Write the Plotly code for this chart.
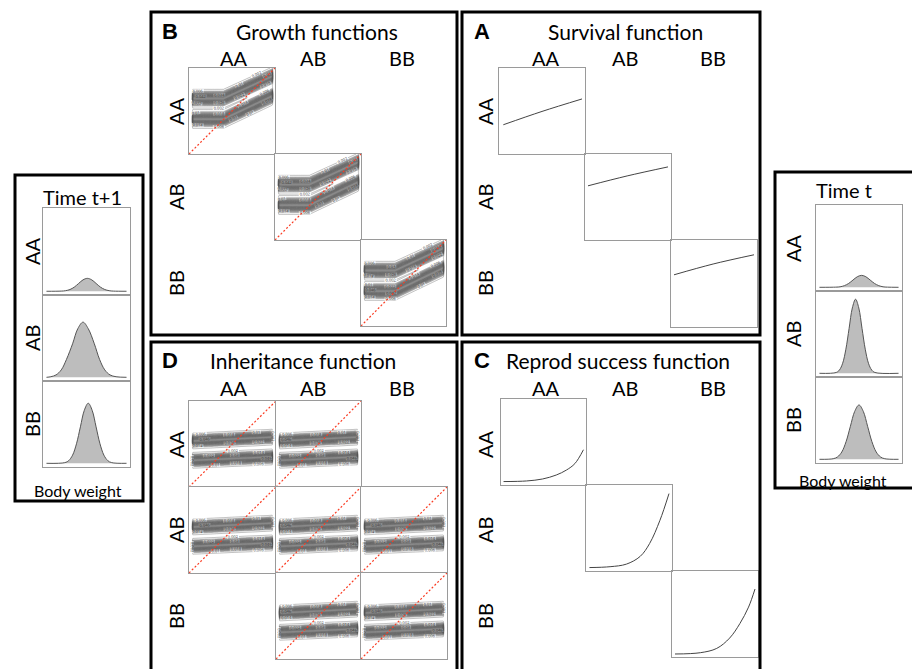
import numpy as np
import plotly.graph_objects as go

W, H = 912, 669
GENOTYPES = ["AA", "AB", "BB"]

# ---------------- data (box-fraction units) ----------------
SURV_X = [[0.05, 0.50, 0.965], [0.035, 0.49, 0.965], [0.035, 0.49, 0.965]]
SURV_Y = [[0.34, 0.495, 0.64], [0.63, 0.745, 0.85], [0.60, 0.724, 0.83]]

REPRO_X = [[0.03, 0.30, 0.49, 0.65, 0.77, 0.87, 0.97],
           [0.04, 0.28, 0.47, 0.63, 0.74, 0.86, 0.965],
           [0.035, 0.33, 0.52, 0.67, 0.79, 0.89, 0.965]]
REPRO_Y = [[0.04, 0.047, 0.07, 0.116, 0.174, 0.25, 0.41],
           [0.04, 0.05, 0.08, 0.17, 0.32, 0.59, 0.90],
           [0.035, 0.05, 0.10, 0.22, 0.39, 0.58, 0.79]]

GROWTH_KNOT_X = [0.04, 0.40, 0.97]
GROWTH_UPPER_Y = [0.645, 0.645, 0.905]
GROWTH_LOWER_Y = [0.405, 0.405, 0.675]
GROWTH_SD = 0.042
GROWTH_CELLS = [(0, 0), (1, 1), (2, 2)]

INHERIT_KNOT_X = [0.04, 0.96]
INHERIT_UPPER_Y = [0.535, 0.58]
INHERIT_LOWER_Y = [0.31, 0.35]
INHERIT_SD = 0.036
INHERIT_CELLS = [(0, 0), (0, 1), (1, 0), (1, 1), (1, 2), (2, 1), (2, 2)]

IDENTITY_X = [0, 1]
IDENTITY_Y = [0, 1]

DIST_T1_X = [
    [0.04, 0.21, 0.26, 0.31, 0.36, 0.41, 0.46, 0.51, 0.56, 0.61, 0.66, 0.71, 0.76, 0.81, 0.96],
    [0.04, 0.09, 0.15, 0.21, 0.27, 0.34, 0.40, 0.46, 0.52, 0.59, 0.65, 0.71, 0.77, 0.84, 0.96],
    [0.04, 0.25, 0.295, 0.34, 0.385, 0.43, 0.475, 0.52, 0.565, 0.61, 0.655, 0.70, 0.745, 0.79, 0.96],
]
DIST_T1_Y = [
    [0, 0.002, 0.007, 0.021, 0.05, 0.094, 0.137, 0.155, 0.137, 0.094, 0.05, 0.021, 0.007, 0.002, 0],
    [0, 0.007, 0.029, 0.09, 0.218, 0.407, 0.591, 0.67, 0.591, 0.407, 0.218, 0.09, 0.029, 0.007, 0],
    [0, 0.008, 0.032, 0.099, 0.237, 0.443, 0.644, 0.73, 0.644, 0.443, 0.237, 0.099, 0.032, 0.008, 0],
]
DIST_T_X = [
    [0.04, 0.23, 0.28, 0.33, 0.38, 0.43, 0.48, 0.53, 0.58, 0.63, 0.68, 0.73, 0.78, 0.83, 0.96],
    [0.04, 0.235, 0.2725, 0.31, 0.3475, 0.385, 0.4225, 0.46, 0.4975, 0.535, 0.5725, 0.61, 0.6475, 0.685, 0.96],
    [0.04, 0.20, 0.25, 0.30, 0.35, 0.40, 0.45, 0.50, 0.55, 0.60, 0.65, 0.70, 0.75, 0.80, 0.96],
]
DIST_T_Y = [
    [0, 0.002, 0.006, 0.02, 0.047, 0.088, 0.128, 0.145, 0.128, 0.088, 0.047, 0.02, 0.006, 0.002, 0],
    [0, 0.01, 0.04, 0.122, 0.293, 0.546, 0.794, 0.90, 0.794, 0.546, 0.293, 0.122, 0.04, 0.01, 0],
    [0, 0.007, 0.029, 0.089, 0.215, 0.401, 0.582, 0.66, 0.582, 0.401, 0.215, 0.089, 0.029, 0.007, 0],
]

# ---------------- layout helpers ----------------
FONT = "Lato, 'Open Sans', sans-serif"
BOX_COLOR = "#9a9a9a"
RED = "rgb(250,60,35)"
fig = go.Figure()
_count = [0]
common = dict(showticklabels=False, showgrid=False, zeroline=False, ticks="", fixedrange=True,
              showline=True, mirror=True, linecolor=BOX_COLOR, linewidth=1)


def add_axes(x0, x1, y0, y1, yrange=(0, 1)):
    _count[0] += 1
    i = _count[0]
    s = "" if i == 1 else str(i)
    fig.update_layout(**{
        "xaxis" + s: dict(domain=[x0 / W, x1 / W], range=[0, 1], anchor="y" + s, **common),
        "yaxis" + s: dict(domain=[1 - y1 / H, 1 - y0 / H], range=list(yrange), anchor="x" + s, **common),
    })
    return "x" + s, "y" + s


annotations = []
shapes = []


def text(x, y, t, size=20, angle=0, family=FONT):
    annotations.append(dict(x=x / W, y=1 - y / H, xref="paper", yref="paper", text=t,
                            showarrow=False, textangle=angle, xanchor="center", yanchor="middle",
                            font=dict(family=family, size=size, color="black")))


def panel(x0, y0, x1, y1):
    shapes.append(dict(type="rect", xref="paper", yref="paper", x0=x0 / W, x1=x1 / W,
                       y0=1 - y1 / H, y1=1 - y0 / H, line=dict(color="black", width=3)))


gx = np.linspace(0, 1, 161)
gy = np.linspace(0, 1, 161)
GX, GY = np.meshgrid(gx, gy)


def kernel(knot_x, upper_y, lower_y, sd):
    z = np.zeros_like(GX)
    mask = (GX >= knot_x[0]) & (GX <= knot_x[-1])
    for ridge in (upper_y, lower_y):
        c = np.interp(GX, knot_x, ridge)
        z += np.exp(-0.5 * ((GY - c) / sd) ** 2)
    return 0.05 * z * mask


def contour_box(xr, yr, z):
    fig.add_trace(go.Contour(
        x=gx, y=gy, z=z, xaxis=xr, yaxis=yr, showscale=False, hoverinfo="skip",
        zmin=0, zmax=0.05,
        contours=dict(start=0.002, end=0.05, size=0.004, coloring="fill", showlabels=True,
                      labelfont=dict(size=4, color="#333"), labelformat=".3~f"),
        colorscale=[[0, "white"], [0.04, "white"], [0.1, "#d0d0d0"], [0.5, "#9c9c9c"], [1, "#878787"]],
        line=dict(color="#5a5a5a", width=0.4)))
    # 1:1 reference line through this box's own axes
    fig.add_trace(go.Scatter(x=IDENTITY_X, y=IDENTITY_Y, xaxis=xr, yaxis=yr, mode="lines",
                             line=dict(color=RED, width=1.2, dash="2px,2px"), hoverinfo="skip"))


# ---------------- Panel B: growth functions ----------------
B_COLS = [189, 275, 361, 446]
B_ROWS = [68, 154, 240, 326]
zg = kernel(GROWTH_KNOT_X, GROWTH_UPPER_Y, GROWTH_LOWER_Y, GROWTH_SD)
for (r, c) in GROWTH_CELLS:
    xr, yr = add_axes(B_COLS[c], B_COLS[c + 1], B_ROWS[r], B_ROWS[r + 1])
    contour_box(xr, yr, zg)

# ---------------- Panel D: inheritance ----------------
D_COLS = [189, 276, 361, 447]
D_ROWS = [401, 487, 573, 659]
zi = kernel(INHERIT_KNOT_X, INHERIT_UPPER_Y, INHERIT_LOWER_Y, INHERIT_SD)
for (r, c) in INHERIT_CELLS:
    xr, yr = add_axes(D_COLS[c], D_COLS[c + 1], D_ROWS[r], D_ROWS[r + 1])
    contour_box(xr, yr, zi)

# ---------------- Panel A: survival ----------------
A_COLS = [499, 585, 671, 757]
A_ROWS = [68, 154, 240, 327]
for k in range(3):
    xr, yr = add_axes(A_COLS[k], A_COLS[k + 1], A_ROWS[k], A_ROWS[k + 1])
    fig.add_trace(go.Scatter(x=SURV_X[k], y=SURV_Y[k], xaxis=xr, yaxis=yr, mode="lines",
                             line=dict(color="#444", width=1, shape="spline"), hoverinfo="skip"))

# ---------------- Panel C: reproductive success ----------------
C_COLS = [501, 586, 672, 758]
C_ROWS = [399, 485, 571, 657]
for k in range(3):
    xr, yr = add_axes(C_COLS[k], C_COLS[k + 1], C_ROWS[k], C_ROWS[k + 1])
    fig.add_trace(go.Scatter(x=REPRO_X[k], y=REPRO_Y[k], xaxis=xr, yaxis=yr, mode="lines",
                             line=dict(color="#444", width=1, shape="spline"), hoverinfo="skip"))


def dist_box(x0, x1, y0, y1, xs, ys):
    xr, yr = add_axes(x0, x1, y0, y1, yrange=(-0.045, 1.0))
    fig.add_trace(go.Scatter(x=xs, y=ys, xaxis=xr, yaxis=yr, mode="lines", fill="tozeroy",
                             fillcolor="#bdbdbd", line=dict(color="#555", width=1, shape="spline"),
                             hoverinfo="skip"))


L_ROWS = [208, 295, 381, 467]
for k in range(3):
    dist_box(43, 130, L_ROWS[k], L_ROWS[k + 1], DIST_T1_X[k], DIST_T1_Y[k])
R_ROWS = [205, 291, 377, 463]
for k in range(3):
    dist_box(816, 902, R_ROWS[k], R_ROWS[k + 1], DIST_T_X[k], DIST_T_Y[k])

# ---------------- panel frames ----------------
panel(15, 175, 143, 501)
panel(151, 12, 457, 335)
panel(462, 12, 760, 335)
panel(151, 342, 457, 675)
panel(462, 342, 760, 675)
panel(775, 172, 916, 488)

# ---------------- texts ----------------
BOLD = "'Liberation Sans', Arial, sans-serif"
text(170, 32, "<b>B</b>", 22, family=BOLD)
text(317, 32, "Growth functions", 21)
text(482, 32, "<b>A</b>", 22, family=BOLD)
text(625, 32, "Survival function", 21)
text(170, 360, "<b>D</b>", 22, family=BOLD)
text(303, 360, "Inheritance function", 21)
text(482, 360, "<b>C</b>", 22, family=BOLD)
text(618, 360, "Reprod success function", 21)

for g, xb, xa in zip(GENOTYPES, [234, 313, 402], [546, 625, 713]):
    text(xb, 58, g, 20)
    text(xa, 58, g, 20)
    text(xb, 388, g, 20)
    text(xa, 388, g, 20)
for g, yb, yd in zip(GENOTYPES, [111, 197, 283], [444, 530, 616]):
    text(176, yb, g, 20, angle=-90)
    text(485, yb, g, 20, angle=-90)
    text(176, yd, g, 20, angle=-90)
    text(485, yd, g, 20, angle=-90)

text(82, 197, "Time t+1", 20)
text(844, 190, "Time t", 20)
for g, yl, yr_ in zip(GENOTYPES, [251, 338, 424], [248, 334, 420]):
    text(32, yl, g, 20, angle=-90)
    text(793, yr_, g, 20, angle=-90)
text(78, 490, "Body weight", 16)
text(843, 480, "Body weight", 16)

fig.update_layout(width=W, height=H, margin=dict(l=0, r=0, t=0, b=0), showlegend=False,
                  paper_bgcolor="white", plot_bgcolor="white",
                  annotations=annotations, shapes=shapes)

fig.write_html("out.html")
